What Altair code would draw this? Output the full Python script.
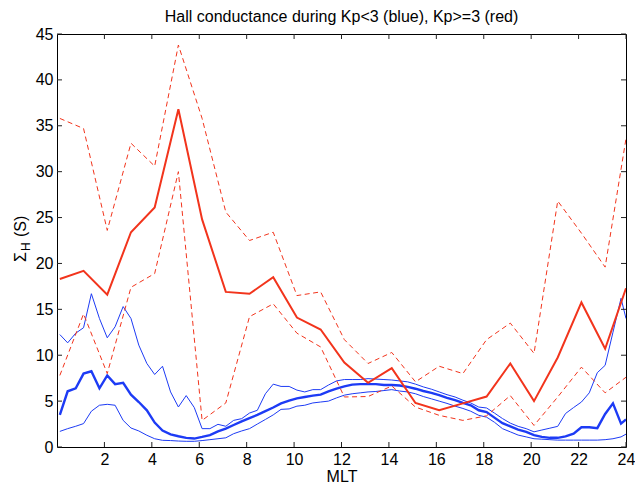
import altair as alt
import pandas as pd

# ---------------- data ----------------
red_mlt = [0.12, 1.12, 2.12, 3.12, 4.12, 5.12, 6.12, 7.12, 8.12, 9.12, 10.12, 11.12,
           12.12, 13.12, 14.12, 15.12, 16.12, 17.12, 18.12, 19.12, 20.12, 21.12, 22.12, 23.12, 24.0]
red_median = [18.3, 19.2, 16.6, 23.4, 26.1, 36.8, 24.8, 16.9, 16.7, 18.5, 14.1, 12.8,
              9.2, 7.0, 8.6, 4.8, 4.0, 4.75, 5.5, 9.1, 5.0, 9.75, 15.75, 10.7, 17.3]
red_upper = [35.8, 34.7, 23.6, 33.1, 30.6, 43.8, 35.8, 25.6, 22.5, 23.4, 16.5, 16.9,
             11.7, 9.1, 10.3, 7.1, 8.8, 8.0, 11.7, 13.5, 10.2, 26.8, 23.3, 19.6, 33.6]
red_lower = [7.8, 14.5, 8.0, 17.4, 18.9, 30.0, 2.9, 4.8, 14.2, 15.6, 12.4, 10.9,
             5.45, 5.5, 6.65, 4.35, 3.45, 2.9, 3.4, 5.6, 2.35, 5.45, 8.7, 5.9, 7.6]

blue_mlt = [0.12, 0.45, 0.79, 1.12, 1.45, 1.79, 2.12, 2.45, 2.79, 3.12, 3.45, 3.79,
            4.12, 4.45, 4.79, 5.12, 5.45, 5.79, 6.12, 6.45, 6.79, 7.12, 7.45, 7.79,
            8.12, 8.45, 8.79, 9.12, 9.45, 9.79, 10.12, 10.45, 10.79, 11.12, 11.45, 11.79,
            12.12, 12.45, 12.79, 13.12, 13.45, 13.79, 14.12, 14.45, 14.79, 15.12, 15.45, 15.79,
            16.12, 16.45, 16.79, 17.12, 17.45, 17.79, 18.12, 18.45, 18.79, 19.12, 19.45, 19.79,
            20.12, 20.45, 20.79, 21.12, 21.45, 21.79, 22.12, 22.45, 22.79, 23.12, 23.45, 23.79, 24.0]
blue_upper = [12.25, 11.35, 12.4, 13.0, 16.7, 14.0, 11.9, 13.1, 15.3, 14.0, 11.1, 9.1,
              7.9, 8.8, 6.0, 4.36, 5.6, 4.3, 2.0, 2.0, 2.47, 2.26, 2.9, 3.09,
              3.7, 4.0, 5.8, 6.85, 6.6, 6.6, 6.2, 6.0, 6.25, 6.25, 6.75, 7.2,
              7.35, 7.35, 7.35, 7.45, 7.4, 7.35, 7.3, 7.2, 7.1, 6.85, 6.55, 6.3,
              6.0, 5.7, 5.45, 5.1, 4.8, 4.35, 4.25, 3.7, 3.1, 2.6, 2.25, 2.0,
              1.65, 1.85, 2.05, 2.25, 3.65, 4.3, 4.9, 5.9, 8.1, 8.9, 12.5, 16.2, 14.0]
blue_median = [3.5, 6.07, 6.4, 8.0, 8.25, 6.4, 7.8, 6.85, 7.0, 5.7, 4.9, 4.0,
               2.66, 1.8, 1.38, 1.17, 1.0, 0.92, 1.1, 1.3, 1.7, 2.0, 2.4, 2.8,
               3.15, 3.5, 3.9, 4.3, 4.75, 5.05, 5.3, 5.45, 5.6, 5.7, 6.05, 6.35,
               6.6, 6.8, 6.85, 6.85, 6.85, 6.75, 6.75, 6.7, 6.55, 6.35, 6.1, 5.9,
               5.65, 5.35, 5.1, 4.8, 4.55, 4.0, 3.8, 3.2, 2.6, 2.25, 1.9, 1.65,
               1.3, 1.1, 1.0, 1.0, 1.15, 1.45, 2.15, 2.15, 2.05, 3.6, 4.75, 2.55, 3.0]
blue_lower = [1.7, 2.0, 2.26, 2.55, 3.9, 4.55, 4.65, 4.55, 2.9, 2.07, 1.75, 1.28,
              0.9, 0.73, 0.7, 0.65, 0.62, 0.62, 0.7, 0.8, 0.9, 1.0, 1.45, 1.75,
              2.0, 2.5, 3.0, 3.5, 4.1, 4.15, 4.45, 4.55, 4.8, 4.9, 5.0, 5.35,
              5.65, 5.8, 5.9, 6.0, 6.05, 6.15, 6.25, 6.1, 6.0, 5.8, 5.5, 5.25,
              5.0, 4.75, 4.45, 4.2, 3.9, 3.45, 3.25, 2.7, 2.0, 1.65, 1.3, 1.1,
              0.9, 0.85, 0.8, 0.75, 0.75, 0.75, 0.75, 0.75, 0.75, 0.8, 0.9, 1.1, 1.4]

x_ticks = [2, 4, 6, 8, 10, 12, 14, 16, 18, 20, 22, 24]
y_ticks = [0, 5, 10, 15, 20, 25, 30, 35, 40, 45]

# ---------------- layout constants ----------------
W, H = 569, 413
FONT = "Liberation Sans"
FS = 16
RED = "#f2341c"
BLUE = "#1d3bf5"

red_df = pd.DataFrame({"mlt": red_mlt, "median": red_median,
                       "upper": red_upper, "lower": red_lower})
blue_df = pd.DataFrame({"mlt": blue_mlt, "median": blue_median,
                        "upper": blue_upper, "lower": blue_lower})

xscale = alt.Scale(domain=[0, 24], nice=False, zero=False)
yscale = alt.Scale(domain=[0, 45], nice=False)

xaxis = alt.Axis(values=x_ticks, ticks=False, domain=False, grid=False,
                 labelFont=FONT, labelFontSize=FS, labelColor="black", labelPadding=4,
                 title="MLT", titleFont=FONT, titleFontSize=FS, titleFontWeight="normal",
                 titleColor="black", titlePadding=1, labelFlush=False)
yaxis = alt.Axis(values=y_ticks, ticks=False, domain=False, grid=False,
                 labelFont=FONT, labelFontSize=FS, labelColor="black", labelPadding=4,
                 title="")


def X(field):
    return alt.X(field, scale=xscale, axis=xaxis)


def Y(field):
    return alt.Y(field, scale=yscale, axis=yaxis)


def line(df, col, color, width, dash=None):
    kw = dict(color=color, strokeWidth=width, clip=True)
    if dash:
        kw["strokeDash"] = dash
    return alt.Chart(df).mark_line(**kw).encode(x=X("mlt:Q"), y=Y(f"{col}:Q"))


layers = [
    line(blue_df, "upper", BLUE, 1.0),
    line(blue_df, "lower", BLUE, 1.0),
    line(blue_df, "median", BLUE, 2.4),
    line(red_df, "upper", RED, 1.0, dash=[5, 3.5]),
    line(red_df, "lower", RED, 1.0, dash=[5, 3.5]),
    line(red_df, "median", RED, 2.0),
]

# inward tick marks on all four sides (MATLAB style)
xt = pd.DataFrame({"mlt": x_ticks})
yt = pd.DataFrame({"val": y_ticks})
TICK = "#222222"
layers += [
    alt.Chart(xt).mark_rule(color=TICK, strokeWidth=1).encode(
        x=X("mlt:Q"), y=alt.value(H), y2=alt.value(H - 5)),
    alt.Chart(xt).mark_rule(color=TICK, strokeWidth=1).encode(
        x=X("mlt:Q"), y=alt.value(0), y2=alt.value(5)),
    alt.Chart(yt).mark_rule(color=TICK, strokeWidth=1).encode(
        y=Y("val:Q"), x=alt.value(0), x2=alt.value(5)),
    alt.Chart(yt).mark_rule(color=TICK, strokeWidth=1).encode(
        y=Y("val:Q"), x=alt.value(W), x2=alt.value(W - 5)),
]

# y-axis title  Σ_H (S)  (rotated, with subscript)
one = pd.DataFrame({"k": [0]})
layers += [
    alt.Chart(one).mark_text(text="Σ", font=FONT, fontSize=FS, angle=270, align="left",
                             baseline="alphabetic", color="black").encode(
        x=alt.value(-31), y=alt.value(228)),
    alt.Chart(one).mark_text(text="H", font=FONT, fontSize=12, angle=270, align="left",
                             baseline="alphabetic", color="black").encode(
        x=alt.value(-27), y=alt.value(217)),
    alt.Chart(one).mark_text(text="(S)", font=FONT, fontSize=FS, angle=270, align="left",
                             baseline="alphabetic", color="black").encode(
        x=alt.value(-31), y=alt.value(203)),
]

chart = alt.layer(*layers).properties(
    width=W, height=H,
    title=alt.TitleParams(text="Hall conductance during Kp<3 (blue), Kp>=3 (red)",
                          font=FONT, fontSize=FS, fontWeight="normal", color="black",
                          anchor="middle", offset=1),
    autosize=alt.AutoSizeParams(type="none"),
    padding={"left": 57, "top": 34, "right": 9, "bottom": 36},
    background="white",
).configure_view(stroke="black", strokeWidth=1)

chart.save("out.html", embed_options={"renderer": "svg", "actions": False})
